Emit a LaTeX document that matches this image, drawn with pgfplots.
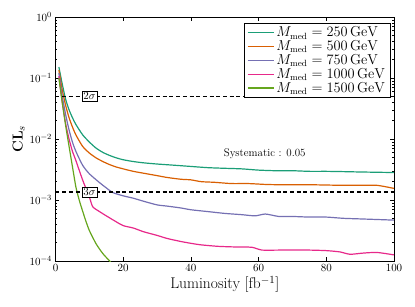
\documentclass[border=0pt]{standalone}
\usepackage{pgfplots}
\pgfplotsset{compat=1.18}
\definecolor{cA}{HTML}{1B9E77}
\definecolor{cB}{HTML}{D95F02}
\definecolor{cC}{HTML}{7570B3}
\definecolor{cD}{HTML}{E7298A}
\definecolor{cE}{HTML}{66A61E}
\begin{document}
\begin{tikzpicture}
\useasboundingbox (-55.5pt,-45pt) rectangle (359.5pt,261pt);
\begin{axis}[
  at={(0,0)}, anchor=south west,
  scale only axis, width=338.5pt, height=244pt,
  xmin=0, xmax=100, ymin=1e-4, ymax=1, ymode=log,
  xtick={0,20,...,100},
  ytick={1e-4,1e-3,1e-2,1e-1,1},
  tick align=inside, xtick pos=both, ytick pos=both,
  major tick length=4pt, minor tick length=2pt,
  tick style={black, line width=0.5pt},
  axis line style={line width=0.8pt},
  tick label style={font=\fontsize{11}{13}\selectfont},
  xlabel={Luminosity [fb$^{-1}$]},
  xlabel style={font=\fontsize{15.5}{18}\selectfont, yshift=2pt},
  ylabel={$\mathbf{CL}_s$},
  ylabel style={font=\fontsize{15.5}{18}\selectfont, yshift=-2pt},
  legend style={at={(axis description cs:0.99,0.977)}, anchor=north east,
    draw=black, line width=0.8pt, font=\fontsize{13.5}{14}\selectfont,
    row sep=-1.5pt, inner xsep=3pt, inner ysep=2pt},
  legend cell align=left,
  legend image code/.code={\draw[#1, line width=1.2pt] (0pt,0pt) -- (21pt,0pt); \path (0pt,0pt) -- (26pt,0pt);},
]
\addplot[cA, line width=1.2pt, smooth, tension=0.4] coordinates {(1,0.1514)(2,0.0794)(3,0.0447)(4,0.0302)(5,0.0224)(6,0.0174)(8,0.01175)(10,0.00891)(12,0.00708)(14,0.00603)(16,0.00537)(18,0.00490)(20,0.00457)(23,0.00427)(26,0.00407)(30,0.00389)(35,0.00372)(40,0.00355)(45,0.00339)(50,0.00331)(55,0.00324)(60,0.00309)(65,0.00302)(70,0.00302)(75,0.00295)(80,0.00295)(85,0.00292)(90,0.00288)(95,0.00285)(100,0.00282)};
\addlegendentry{$M_{\mathrm{med}} = 250\,\mathrm{GeV}$}
\addplot[cB, line width=1.2pt, smooth, tension=0.4] coordinates {(1,0.1349)(2,0.0631)(3,0.0355)(4,0.0224)(5,0.0158)(6,0.01175)(8,0.00759)(10,0.00589)(12,0.00490)(14,0.00427)(16,0.00380)(18,0.00347)(20,0.00324)(23,0.00295)(26,0.00275)(30,0.00251)(33,0.00234)(37,0.00219)(40,0.00214)(43,0.00200)(47,0.00195)(52,0.00186)(57,0.00186)(62,0.00180)(66,0.00178)(70,0.00178)(75,0.00178)(80,0.00176)(85,0.00174)(90,0.00174)(95,0.00174)(100,0.00155)};
\addlegendentry{$M_{\mathrm{med}} = 500\,\mathrm{GeV}$}
\addplot[cC, line width=1.2pt, smooth, tension=0.4] coordinates {(1,0.1202)(2,0.0501)(3,0.0251)(4,0.01413)(5,0.00891)(6,0.00631)(8,0.00372)(10,0.00269)(13,0.00193)(15,0.00158)(17,0.00132)(20,0.00117)(23,0.00107)(26,0.000955)(30,0.000832)(33,0.000794)(37,0.000741)(40,0.000692)(45,0.000646)(50,0.000603)(55,0.000575)(59,0.000550)(62,0.000589)(66,0.000537)(70,0.000537)(75,0.000525)(80,0.000525)(85,0.000501)(90,0.000490)(95,0.000479)(100,0.000468)};
\addlegendentry{$M_{\mathrm{med}} = 750\,\mathrm{GeV}$}
\addplot[cD, line width=1.2pt, smooth, tension=0.4] coordinates {(1,0.1072)(2,0.0398)(3,0.0178)(4,0.0100)(5,0.00631)(6,0.00447)(8,0.00214)(10,0.00112)(11,0.000776)(13,0.000646)(15,0.000550)(18,0.000437)(20,0.000380)(23,0.000347)(26,0.000302)(30,0.000263)(33,0.000234)(37,0.000209)(40,0.000195)(43,0.000184)(48,0.000174)(53,0.000170)(58,0.000168)(61,0.000151)(66,0.000151)(70,0.000151)(75,0.000151)(80,0.000148)(84,0.000141)(87,0.000129)(91,0.000135)(95,0.000138)(100,0.000126)};
\addlegendentry{$M_{\mathrm{med}} = 1000\,\mathrm{GeV}$}
\addplot[cE, line width=1.2pt, smooth, tension=0.4] coordinates {(1,0.1)(2,0.0398)(3,0.0166)(4,0.00759)(5,0.00355)(6,0.00166)(7,0.001)(8,0.000661)(9,0.000447)(10,0.000316)(12,0.000191)(14,0.000132)(16,0.0001)(17,0.0000851)};
\addlegendentry{$M_{\mathrm{med}} = 1500\,\mathrm{GeV}$}
\addplot[black, line width=1.3pt, dash pattern=on 4pt off 2.7pt, forget plot] coordinates {(0,0.05)(100,0.05)};
\addplot[black, line width=1.3pt, dash pattern=on 4pt off 2.7pt, forget plot] coordinates {(0,0.00135)(100,0.00135)};
\node[draw, fill=white, line width=0.5pt, inner sep=1.5pt, font=\fontsize{11}{13}\selectfont] at (axis cs:10,0.05) {$2\sigma$};
\node[draw, fill=white, line width=0.5pt, inner sep=1.5pt, font=\fontsize{11}{13}\selectfont] at (axis cs:10,0.00135) {$3\sigma$};
\node[font=\fontsize{11}{13}\selectfont] at (axis cs:61.8,0.0057) {Systematic : 0.05};
\end{axis}
\end{tikzpicture}
\end{document}
